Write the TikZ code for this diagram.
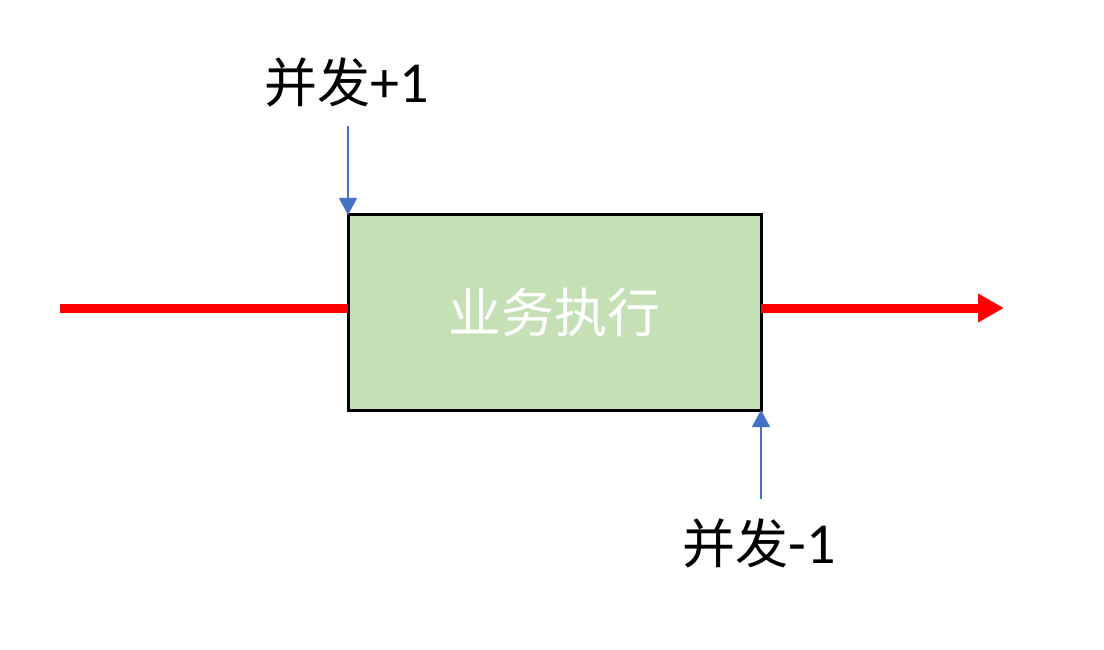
\documentclass[tikz,border=0pt]{standalone}
\usepackage{fontspec}
\setmainfont{Carlito}
\newfontfamily\cjk{Noto Sans CJK SC}
\usetikzlibrary{arrows.meta}
\definecolor{boxgreen}{HTML}{C5E0B4}
\definecolor{arrowblue}{HTML}{4472C4}
\begin{document}
\begin{tikzpicture}[x=1pt,y=-1pt,
  procbox/.style={draw=black,line width=3pt,fill=boxgreen,minimum width=413pt,minimum height=195pt,inner sep=0pt,outer sep=0pt,text=white,font=\cjk\fontsize{53}{64}\selectfont},
  lbl/.style={inner sep=0pt,font=\fontsize{58}{68}\selectfont},
  flow/.style={draw=red,line width=9pt,-{Triangle[length=26pt,width=27pt]}},
  flowin/.style={draw=red,line width=9pt},
  sig/.style={draw=arrowblue,line width=1.3pt,-{Triangle[length=17pt,width=18pt]}}]
\useasboundingbox (0,0) rectangle (1104,650);
\node[procbox] (box) at (554.5,312.5) {业务执行};
\coordinate (in) at (60,308);
\coordinate (out) at (1004,308);
\draw[flowin] (in) -- (in -| box.west);
\draw[flow] (out -| box.east) -- (out);
\node[lbl,anchor=base] (plus) at (346.5,103) {{\cjk\fontsize{53}{64}\selectfont 并发}+1};
\node[lbl,anchor=base] (minus) at (759.5,563) {{\cjk\fontsize{53}{64}\selectfont 并发}-1};
\coordinate (ptop) at (348,126);
\coordinate (pbot) at (760,499);
\draw[sig] (box.north west |- ptop) -- (box.north west);
\draw[sig] (box.south east |- pbot) -- (box.south east);
\end{tikzpicture}
\end{document}
